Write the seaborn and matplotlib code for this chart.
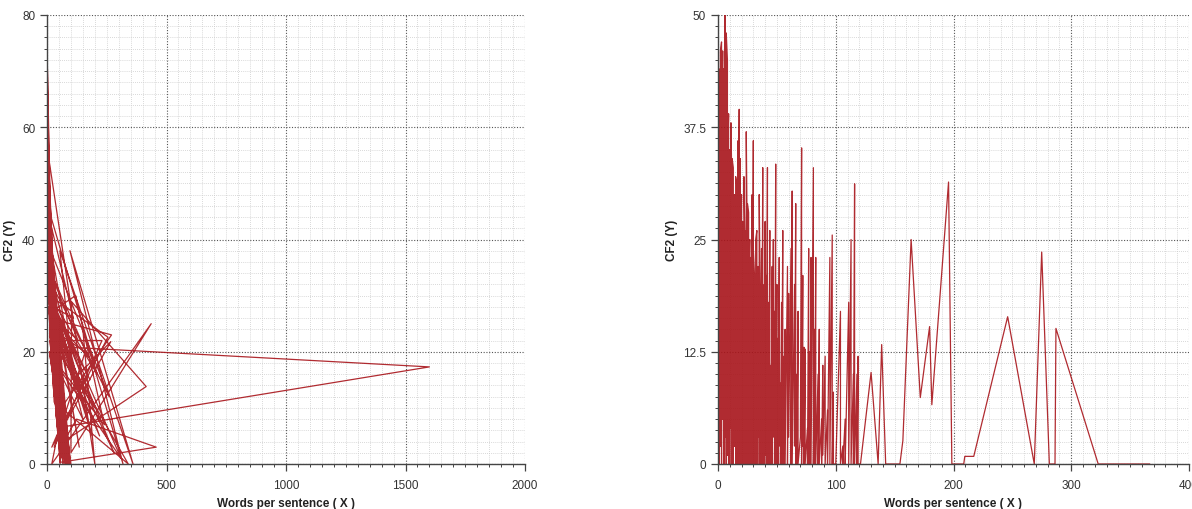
import matplotlib
matplotlib.use("Agg")
import matplotlib.pyplot as plt
import seaborn as sns
from matplotlib.ticker import MultipleLocator, FuncFormatter

# ---------------- data ----------------
left_x = [
    1, 2, 0.5, 3, 1.5, 4, 2, 6, 1, 8,
    3, 10, 2, 12, 5, 18, 4, 22, 7, 28,
    3, 15, 9, 35, 6, 45, 11, 60, 5, 20,
    14, 50, 8, 26, 13, 38, 10, 70, 7, 32,
    16, 55, 4, 24, 12, 42, 9, 30, 18, 65,
    6, 27, 11, 48, 15, 36, 8, 80, 13, 22,
    5, 33, 17, 58, 10, 40, 20, 90, 7, 29,
    14, 52, 12, 100, 9, 25, 19, 44, 6, 31,
    16, 62, 11, 37, 23, 75, 8, 28, 15, 46,
    4, 21, 13, 56, 54, 1600, 50, 20, 436, 100,
    103, 415, 70, 124, 457, 55, 12, 255, 40, 20,
    267, 110, 54, 360, 96, 318, 150, 200, 2, 12,
    3, 20, 1, 9, 2, 14, 4, 30, 1, 24,
    6, 40, 2, 17, 5, 26, 3, 11, 7, 35,
    8, 48, 10, 19, 4, 33, 12, 64, 6, 21,
    9, 27, 5, 43, 15, 85, 11, 30, 3, 18,
    7, 38, 14, 120, 240, 22, 9, 60, 13, 34,
    2, 16, 6, 45, 10, 25, 4, 72, 8, 23,
    12, 36, 5, 19, 1, 28, 3, 14, 7, 50,
    11, 270, 60, 340, 18, 160, 30, 230, 15, 200,
    9, 32, 6, 41, 13, 24, 4, 17, 10, 66,
    5, 22, 8, 29, 2, 15, 7, 37, 12, 56,
    25, 70, 18, 85, 30, 62, 12, 78, 40, 55,
    20, 90, 35, 68, 15, 74, 28, 58, 45, 82,
    22, 65, 38, 80, 26, 52, 17, 76, 33, 60,
    48, 88, 24, 57, 19, 72, 42, 66, 29, 84,
    36, 78, 21, 63, 31, 86, 44, 54, 16, 70,
    27, 92, 39, 61, 23, 75, 34, 81, 47, 58,
    14, 67, 32, 87, 41, 53, 20, 79, 37, 64,
    18, 71, 43, 59, 25, 83, 30, 69, 50, 95,
    12, 49, 28, 77, 35, 60, 22, 88, 39, 73,
    26, 66, 17, 55, 46, 84, 31, 62, 21, 90,
    33, 74, 24, 51, 38, 80, 15, 68, 44, 57,
    29, 86, 19, 63, 41, 76, 27, 54, 36, 93,
    10, 58, 23, 82, 34, 65, 47, 71, 18, 52,
    30, 89, 20, 61, 40, 78, 25, 56, 43, 69,
    16, 75, 37, 85, 22, 50, 32, 67, 13, 60,
    28, 96, 42, 64, 19, 73, 35, 57, 24, 81,
    40, 140, 20, 170, 15, 130, 30, 190, 25, 110,
    3, 60, 8, 45, 2, 55, 12, 38, 5, 65,
    10, 50, 4, 62, 14, 35, 6, 48, 1, 58,
    7, 42, 2, 66, 11, 30, 3, 52, 9, 40,
    1, 57, 6, 33, 13, 63, 4, 46, 8, 28,
    2, 61, 10, 44, 5, 37, 12, 68, 3, 31,
    15, 220, 20, 180, 10, 310, 35, 150, 8, 260,
    6, 54, 3, 41, 9, 59, 2, 36, 7, 49,
    11, 64, 4, 29, 14, 47, 1, 53, 8, 39,
    5, 120, 12, 280, 18, 175, 7, 135, 25, 210,
    3, 43, 9, 57, 2, 34, 6, 61, 10, 26,
]
left_y = [
    75, 48, 70, 52, 66, 45, 58, 40, 62, 36,
    50, 30, 55, 33, 44, 28, 38, 25, 35, 20,
    47, 31, 26, 15, 33, 10, 24, 5, 36, 22,
    27, 8, 31, 18, 29, 12, 20, 3, 28, 16,
    22, 0, 41, 21, 26, 9, 30, 14, 24, 2,
    34, 19, 28, 6, 23, 11, 32, 0, 25, 17,
    39, 13, 21, 4, 27, 8, 19, 1, 30, 15,
    24, 6, 22, 0, 29, 16, 20, 7, 37, 12,
    26, 3, 23, 10, 18, 2, 33, 13, 21, 5,
    43, 20, 27, 1, 20.9, 17.3, 6.5, 0, 25, 2,
    28.9, 13.8, 4, 8, 3, 0.3, 30, 22.6, 5, 3,
    21.8, 15, 38, 0, 38, 0, 24, 0, 56, 34,
    60, 26, 68, 38, 53, 30, 46, 18, 64, 22,
    42, 10, 57, 27, 40, 17, 51, 32, 35, 14,
    30, 4, 34, 23, 44, 12, 28, 1, 39, 18,
    33, 15, 41, 7, 25, 0, 29, 11, 49, 24,
    36, 9, 27, 30, 7, 19, 31, 2, 24, 13,
    58, 25, 38, 6, 30, 18, 45, 0, 32, 21,
    28, 12, 42, 26, 72, 16, 54, 29, 37, 5,
    26, 23, 10, 0, 24, 20, 3, 22, 22, 10,
    30, 14, 36, 8, 26, 19, 47, 23, 28, 2,
    40, 20, 33, 15, 52, 24, 35, 10, 27, 3,
    30, 3, 35, 1, 25, 8, 38, 4, 20, 12,
    33, 0, 22, 6, 36, 2, 27, 10, 16, 5,
    31, 9, 19, 2, 28, 14, 34, 7, 24, 11,
    18, 1, 29, 13, 32, 5, 21, 8, 26, 3,
    23, 0, 30, 12, 27, 4, 17, 15, 37, 6,
    28, 2, 21, 10, 32, 3, 25, 1, 19, 9,
    38, 7, 26, 0, 20, 13, 35, 5, 22, 8,
    36, 4, 18, 11, 31, 2, 28, 6, 15, 0,
    40, 16, 29, 3, 24, 10, 33, 1, 21, 5,
    30, 7, 37, 14, 17, 2, 27, 9, 34, 1,
    25, 4, 32, 15, 22, 3, 39, 7, 19, 12,
    28, 0, 35, 9, 20, 5, 30, 13, 23, 2,
    44, 11, 31, 1, 26, 8, 17, 6, 36, 14,
    27, 2, 34, 10, 21, 4, 29, 12, 18, 7,
    38, 3, 24, 0, 33, 16, 26, 8, 41, 10,
    29, 1, 19, 9, 35, 5, 23, 13, 31, 3,
    22, 12, 30, 8, 34, 22, 26, 5, 28, 26,
    45, 2, 38, 10, 50, 6, 32, 14, 42, 1,
    36, 8, 44, 3, 30, 16, 40, 9, 54, 4,
    38, 12, 48, 0, 34, 18, 46, 7, 35, 13,
    58, 5, 41, 17, 29, 2, 43, 9, 37, 20,
    52, 3, 33, 11, 40, 15, 31, 1, 47, 19,
    25, 5, 28, 15, 30, 1, 18, 8, 33, 12,
    39, 6, 49, 12, 36, 4, 53, 15, 38, 9,
    32, 2, 45, 19, 28, 10, 60, 7, 36, 14,
    41, 14, 30, 2, 26, 19, 35, 3, 29, 16,
    46, 11, 37, 5, 51, 16, 40, 3, 33, 21,
]

right_x = [
    1, 1, 1, 2, 2, 2, 3, 3, 3, 4, 4, 4, 5, 5, 5, 6, 6, 6, 7, 7, 7,
    8, 8, 8, 9, 9, 9, 10, 10, 10, 11, 11, 11, 12, 12, 12, 13, 13, 13,
    14, 14, 14, 15, 15, 15, 16, 16, 16, 17, 17, 17, 18, 18, 18,
    19, 19, 19, 20, 20, 20, 21, 21, 21, 22, 22, 22, 23, 23, 23,
    24, 24, 24, 25, 25, 25, 26, 26, 26, 27, 27, 28, 28, 28, 29, 29,
    30, 30, 30, 31, 31, 32, 32, 32, 33, 33, 34, 34, 35, 35, 35,
    36, 36, 37, 37, 38, 38, 38, 39, 39, 40, 40, 41, 41, 42, 42,
    43, 43, 44, 44, 45, 45, 46, 46, 47, 47, 48, 48, 49, 49, 50, 50,
    51, 51, 52, 52, 53, 53, 54, 54, 55, 55, 56, 56, 57, 57, 59, 59,
    60, 60, 62, 62, 63, 63, 65, 65, 66, 66, 67, 67, 68, 68, 70, 70,
    71, 71, 72, 72, 73, 73, 74, 74, 76, 76, 77, 77, 78, 78, 79, 79,
    81, 81, 82, 82, 83, 83, 85, 85, 86, 86, 88, 88, 89, 89, 91, 91,
    93, 93, 95, 95, 97, 97, 98, 98, 100, 104, 104, 106, 106, 108, 108,
    111, 111, 113, 113, 115, 115, 116, 116, 118, 118, 119, 119, 121,
    130, 136, 139, 142.4, 154.5, 157, 164, 171.8, 179.7, 181.6, 195.8,
    198.6, 208.7, 209.6, 217.2, 246, 268.6, 274.9, 281.4, 286.2, 287,
    322.9, 366.7,
]
right_y = [
    44, 0, 30, 38, 2, 46, 47, 0, 35, 46, 5, 40, 20, 44, 0, 50, 3, 42, 36, 0, 48,
    45, 1, 33, 39, 0, 28, 35, 0, 31, 32, 4, 38, 29, 0, 34, 33, 0, 21,
    30, 2, 26, 28, 0, 32, 31, 0, 24, 36, 0, 19, 39.5, 0, 27,
    34, 0, 22, 30, 0, 25, 27, 0, 18, 25, 0, 32, 24, 0, 20,
    26, 0, 37, 22, 0, 29, 28, 0, 20, 25, 0, 23, 0, 17, 30, 0,
    36, 0, 24, 21, 0, 18, 0, 25, 26, 0, 22, 3, 19, 0, 30,
    16, 0, 24, 0, 33, 0, 20, 14, 0, 27, 1, 21, 0, 33, 0,
    18, 0, 26, 0, 11, 0, 22, 0, 25, 3, 17, 0, 33.4, 0, 20, 0,
    14, 0, 23, 2, 9, 0, 18, 0, 26, 0, 12, 0, 15, 0, 22, 0,
    19, 3, 24, 0, 30.4, 0, 20, 2, 29, 0, 10, 0, 17, 0, 3, 4,
    35.2, 0, 21, 2, 13, 0, 12.8, 0, 4, 0, 24, 0, 12.5, 0, 23, 0,
    33, 0, 15, 0, 23, 0, 10, 0, 15, 0, 5, 0, 11, 1, 12, 0,
    6, 0, 23, 0, 25.5, 0, 8, 0, 0, 17, 0, 2, 0, 5, 0,
    18, 0, 25, 0, 10, 0, 31.2, 0, 10, 0, 12, 0, 0,
    10.2, 0, 13.3, 0, 0, 2.6, 25, 7.4, 15.3, 6.6, 31.4,
    0, 0, 0.85, 0.85, 16.4, 0, 23.6, 0, 0, 15.1,
    0, 0,
]

left_xticks = [0, 500, 1000, 1500, 2000]
left_yticks = [0, 20, 40, 60, 80]
right_xticks = [0, 100, 200, 300, 400]
right_yticks = [0, 12.5, 25, 37.5, 50]
x_label = "Words per sentence ( X )"
y_label = "CF2 (Y)"

# ---------------- style ----------------
sns.set_style("white")
plt.rcParams['font.family'] = ['Liberation Sans', 'DejaVu Sans']

W, H = 1192, 510
fig = plt.figure(figsize=(W / 100, H / 100), dpi=100)
ax1 = fig.add_axes([47 / W, 45 / H, 478 / W, 449 / H])
ax2 = fig.add_axes([718 / W, 45 / H, 471 / W, 449 / H])

line_color = "#a8141a"

sns.lineplot(x=left_x, y=left_y, sort=False, estimator=None, ax=ax1,
             color=line_color, linewidth=0.9, alpha=0.9)
sns.lineplot(x=right_x, y=right_y, sort=False, estimator=None, ax=ax2,
             color=line_color, linewidth=0.9, alpha=0.9)

fmt = FuncFormatter(lambda v, p: "%g" % v)


def style(ax, xticks, yticks, xminor, yminor):
    ax.set_xlim(xticks[0], xticks[-1])
    ax.set_ylim(yticks[0], yticks[-1])
    ax.set_xticks(xticks)
    ax.set_yticks(yticks)
    ax.xaxis.set_minor_locator(MultipleLocator(xminor))
    ax.yaxis.set_minor_locator(MultipleLocator(yminor))
    ax.xaxis.set_major_formatter(fmt)
    ax.yaxis.set_major_formatter(fmt)
    ax.set_axisbelow(True)
    ax.grid(which="major", color="#555555", linestyle=(0, (1, 1.5)), linewidth=0.8)
    ax.grid(which="minor", color="#cccccc", linestyle=(0, (1, 1.5)), linewidth=0.6)
    for s in ("top", "right"):
        ax.spines[s].set_visible(False)
    for s in ("left", "bottom"):
        ax.spines[s].set_color("#444444")
        ax.spines[s].set_linewidth(1.0)
    ax.tick_params(which="major", direction="out", length=5, width=0.9,
                   color="#444444", labelsize=8.5, labelcolor="#333333",
                   left=True, bottom=True)
    ax.tick_params(which="minor", direction="out", length=2.5, width=0.7,
                   color="#444444", left=True, bottom=True)
    ax.tick_params(axis="x", which="major", pad=6)
    ax.set_xlabel(x_label, fontsize=8.5, fontweight="bold", color="#222222", labelpad=4)
    ax.set_ylabel(y_label, fontsize=8.5, fontweight="bold", color="#222222", labelpad=4)


style(ax1, left_xticks, left_yticks, 50, 2)
style(ax2, right_xticks, right_yticks, 10, 1.25)

fig.savefig("out.png", dpi=100)
